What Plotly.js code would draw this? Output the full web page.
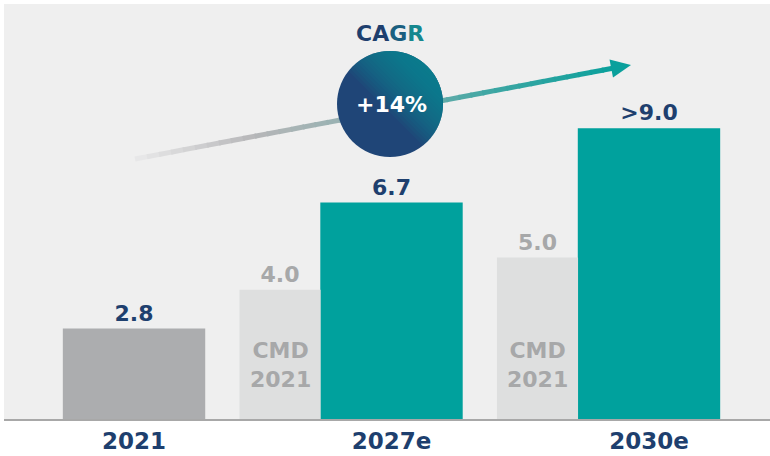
<!DOCTYPE html>
<html>
<head>
<meta charset="utf-8">
<script src="https://cdn.plot.ly/plotly-3.0.1.min.js"></script>
<style>
  html, body { margin: 0; padding: 0; background: #ffffff; }
  #chart { width: 770px; height: 456px; }
</style>
</head>
<body>
<div id="chart"></div>
<script>
// data
var categories = ['2021', '2027e', '2030e'];
var mainValues = [2.8, 6.7, 9.0];
var mainLabels = ['2.8', '6.7', '>9.0'];
var cmdValues = [4.0, 5.0];          // CMD 2021 targets for 2027e / 2030e
var cmdLabels = ['4.0', '5.0'];
var cmdText = 'CMD<br>2021';
var cagrTitle = 'CA<span style="color:#1a5f80">G</span><span style="color:#16878e">R</span>';
var cagrValue = '+14%';

var NAVY = '#1e3f6e', TEAL = '#00a19d', GREY = '#acadaf', LIGHT = '#dedfdf', CMDTXT = '#a7a8a9';
var FONT = 'DejaVu Sans, sans-serif';

// plot area in pixels (used for the decorations only)
var L = 4, T = 4, W = 766, H = 415;
function px(x) { return (x - L) / W; }
function py(y) { return (T + H - y) / H; }

var mainX = [0, 1, 2];
var cmdX = mainX.slice(1).map(function (v) { return v - 0.433; });

var traces = [
  {
    type: 'bar', x: mainX, y: mainValues, width: 0.553,
    marker: { color: [GREY, TEAL, TEAL] },
    text: mainLabels, textposition: 'outside', constraintext: 'none', cliponaxis: false,
    textfont: { family: FONT, size: 22, color: NAVY, weight: 700 },
    hoverinfo: 'skip'
  },
  {
    type: 'bar', x: cmdX, y: cmdValues, width: 0.315,
    marker: { color: LIGHT },
    text: cmdLabels, textposition: 'outside', constraintext: 'none', cliponaxis: false,
    textfont: { family: FONT, size: 22, color: CMDTXT, weight: 700 },
    hoverinfo: 'skip'
  }
];

// gradient arrow: short segments from light grey to teal
var x0 = 135, y0 = 159, x1 = 614, y1 = 68;
var stops = [[0, [234, 234, 234]], [0.25, [182, 182, 184]], [0.5, [140, 176, 176]], [0.75, [60, 166, 163]], [1, [10, 160, 156]]];
function colorAt(t) {
  for (var i = 1; i < stops.length; i++) {
    if (t <= stops[i][0]) {
      var a = stops[i - 1], b = stops[i], f = (t - a[0]) / (b[0] - a[0]);
      var c = a[1].map(function (v, k) { return Math.round(v + (b[1][k] - v) * f); });
      return 'rgb(' + c.join(',') + ')';
    }
  }
  return 'rgb(10,160,156)';
}
var shapes = [];
var N = 40;
for (var i = 0; i < N; i++) {
  var ta = i / N, tb = (i + 1.15) / N;
  if (tb > 1) tb = 1;
  shapes.push({
    type: 'line', xref: 'paper', yref: 'paper', layer: 'above',
    x0: px(x0 + (x1 - x0) * ta), y0: py(y0 + (y1 - y0) * ta),
    x1: px(x0 + (x1 - x0) * tb), y1: py(y0 + (y1 - y0) * tb),
    line: { color: colorAt((i + 0.5) / N), width: 5 }
  });
}
// arrow head
shapes.push({
  type: 'path', xref: 'paper', yref: 'paper', layer: 'above',
  path: 'M ' + px(631) + ' ' + py(65) + ' L ' + px(609.5) + ' ' + py(59.5) + ' L ' + px(613) + ' ' + py(77.5) + ' Z',
  fillcolor: 'rgb(10,160,156)', line: { width: 0 }
});

// CAGR circle, navy with a teal tint towards the upper right
var cx = 390, cy = 104, r = 53;
shapes.push({
  type: 'circle', xref: 'paper', yref: 'paper', layer: 'above',
  x0: px(cx - r), x1: px(cx + r), y0: py(cy + r), y1: py(cy - r),
  fillcolor: '#1f4577', line: { width: 0 }
});
var dirA = -Math.PI / 4;   // towards upper right on screen
for (var s = -6; s < 52; s += 3) {
  var half = Math.acos(s / r), pts = [];
  for (var k = 0; k <= 30; k++) {
    var a = dirA - half + (2 * half) * k / 30;
    pts.push(px(cx + r * Math.cos(a)) + ',' + py(cy + r * Math.sin(a)));
  }
  shapes.push({
    type: 'path', xref: 'paper', yref: 'paper', layer: 'above',
    path: 'M ' + pts.join(' L ') + ' Z',
    fillcolor: 'rgba(8,140,145,0.085)', line: { width: 0 }
  });
}

var annotations = [
  {
    xref: 'paper', yref: 'paper', x: px(390), y: py(33), xanchor: 'center', yanchor: 'middle', showarrow: false,
    text: cagrTitle, font: { family: FONT, size: 22, color: NAVY, weight: 700 }
  },
  {
    xref: 'paper', yref: 'paper', x: px(391), y: py(105), xanchor: 'center', yanchor: 'middle', showarrow: false,
    text: cagrValue, font: { family: FONT, size: 22, color: '#ffffff', weight: 700 }
  }
];
cmdX.forEach(function (x) {
  annotations.push({
    x: x, y: 1.67, xref: 'x', yref: 'y', showarrow: false,
    text: cmdText, font: { family: FONT, size: 22, color: CMDTXT, weight: 700 }
  });
});

var layout = {
  width: 770, height: 456,
  margin: { l: L, r: 0, t: T, b: 456 - T - H },
  paper_bgcolor: '#ffffff',
  plot_bgcolor: '#efefef',
  barmode: 'overlay',
  showlegend: false,
  xaxis: {
    range: [-0.505, 2.47], tickvals: mainX, ticktext: categories,
    showgrid: false, zeroline: false, showline: true, linecolor: '#a8a8a8', linewidth: 2,
    ticks: '', ticklabelstandoff: 0,
    tickfont: { family: FONT, size: 23, color: NAVY, weight: 700 },
    fixedrange: true
  },
  yaxis: {
    range: [0, H / 32.3], visible: false, fixedrange: true
  },
  shapes: shapes,
  annotations: annotations
};

var config = { displayModeBar: false, staticPlot: true };
Plotly.newPlot('chart', traces, layout, config);
</script>
</body>
</html>
